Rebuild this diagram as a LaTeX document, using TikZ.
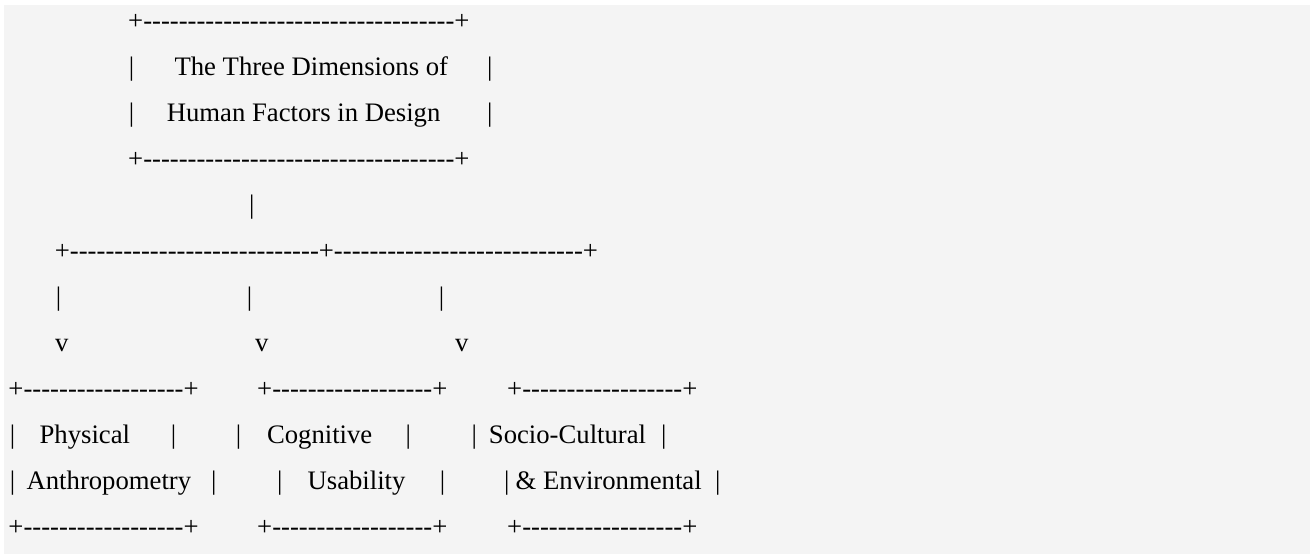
\documentclass[tikz,border=0pt]{standalone}
\usepackage{fontspec}
\setmainfont{Liberation Serif}[Ligatures=TeXOff]
\definecolor{paper}{HTML}{F4F4F4}

\begin{document}
\begin{tikzpicture}[
    x=1pt, y=-1pt,
    ascii/.style={anchor=base west, inner sep=0pt, outer sep=0pt,
        font=\fontsize{26.7pt}{32pt}\selectfont}
]
    \useasboundingbox (0,0) rectangle (1310,554);
    \fill[paper] (4,5) rectangle (1310,554);

    % title box
    \node[ascii] (ttop) at (128.2,29) {+-----------------------------------+};
    \node[ascii] (tl1) at (128.9,75) {|};
    \node[ascii] (title1) at (174.5,75) {The Three Dimensions of};
    \node[ascii] (tr1) at (487.2,75) {|};
    \node[ascii] (tl2) at (128.9,121) {|};
    \node[ascii] (title2) at (166.8,121) {Human Factors in Design};
    \node[ascii] (tr2) at (487.2,121) {|};
    \node[ascii] (tbot) at (128.2,167) {+-----------------------------------+};

    % stem and branches
    \node[ascii] (stem) at (249.2,213) {|};
    \node[ascii] (branch) at (54.9,259) {+----------------------------+----------------------------+};
    \node[ascii] (drop1) at (55.9,305) {|};
    \node[ascii] (drop2) at (246.9,305) {|};
    \node[ascii] (drop3) at (438.9,305) {|};
    \node[ascii] (tip1) at (55,351) {v};
    \node[ascii] (tip2) at (255,351) {v};
    \node[ascii] (tip3) at (455,351) {v};

    % physical
    \node[ascii] (ptop) at (8.5,397) {+------------------+};
    \node[ascii] (pl1) at (9.9,443) {|};
    \node[ascii] (phys1) at (39.6,443) {Physical};
    \node[ascii] (pr1) at (170.9,443) {|};
    \node[ascii] (pl2) at (9.9,489) {|};
    \node[ascii] (phys2) at (26.6,489) {Anthropometry};
    \node[ascii] (pr2) at (211.2,489) {|};
    \node[ascii] (pbot) at (8.5,535) {+------------------+};

    % cognitive
    \node[ascii] (ctop) at (257.2,397) {+------------------+};
    \node[ascii] (cl1) at (235.9,443) {|};
    \node[ascii] (cog1) at (267,443) {Cognitive};
    \node[ascii] (cr1) at (405.7,443) {|};
    \node[ascii] (cl2) at (277.2,489) {|};
    \node[ascii] (cog2) at (307.6,489) {Usability};
    \node[ascii] (cr2) at (439.9,489) {|};
    \node[ascii] (cbot) at (257.2,535) {+------------------+};

    % socio-cultural
    \node[ascii] (stop) at (507.2,397) {+------------------+};
    \node[ascii] (sl1) at (471.7,443) {|};
    \node[ascii] (soc1) at (488.9,443) {Socio-Cultural};
    \node[ascii] (sr1) at (661.2,443) {|};
    \node[ascii] (sl2) at (504.2,489) {|};
    \node[ascii] (soc2) at (515.6,489) {\& Environmental};
    \node[ascii] (sr2) at (715.2,489) {|};
    \node[ascii] (sbot) at (507.2,535) {+------------------+};
\end{tikzpicture}
\end{document}
